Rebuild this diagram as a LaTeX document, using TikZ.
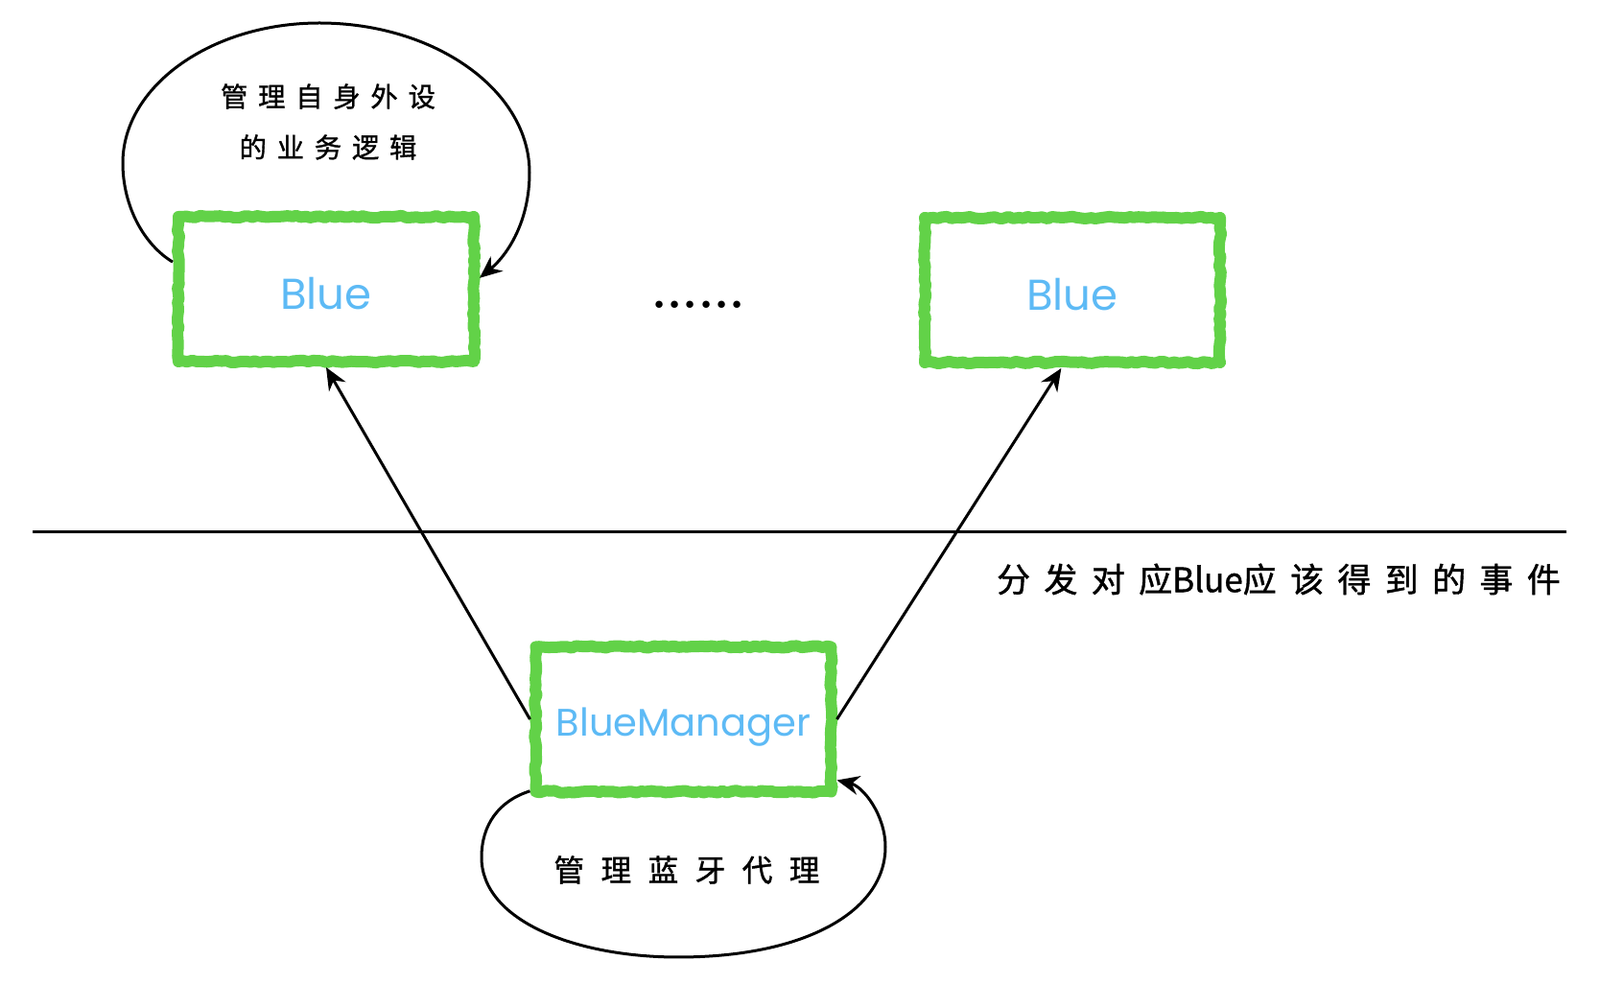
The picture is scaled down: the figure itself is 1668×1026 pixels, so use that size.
\documentclass[tikz,border=0pt]{standalone}
\usepackage{fontspec}
\usetikzlibrary{arrows.meta,decorations.pathmorphing}
\newfontfamily\cjk{Noto Sans CJK SC}[FakeBold=1.2]
\newfontfamily\latinfont{Poppins}
\definecolor{chalkgreen}{RGB}{98,210,72}
\definecolor{bluetext}{RGB}{93,186,245}
\tikzset{
  bluebox/.style={rectangle,draw=chalkgreen,line width=3.6pt,line join=round,
    minimum width=92.4pt,minimum height=45.3pt,inner sep=0pt,
    decorate,decoration={random steps,segment length=1.5pt,amplitude=0.35pt},
    text=bluetext,font=\latinfont\fontsize{13.5}{13.5}\selectfont},
  arr/.style={line width=0.9pt,-{Stealth[length=7pt,width=6pt]}},
  note/.style={inner sep=0pt,align=center}
}
\begin{document}
\begin{tikzpicture}[x=0.3pt,y=-0.3pt]
      \useasboundingbox (0,0) rectangle (1668,1026);%

      \node[bluebox] (blueA) at (340,301.5) {\raisebox{-6.3pt}[0pt][0pt]{Blue}};%
      \node[bluebox] (blueB) at (1118,302.5) {\raisebox{-6.3pt}[0pt][0pt]{Blue}};%
      \node[bluebox] (mgr) at (712.5,750) {\raisebox{-5.4pt}[0pt][0pt]{\fontsize{12}{12}\selectfont BlueManager}};%

      \node[inner sep=0pt,font=\fontsize{15.5}{15.5}\selectfont\bfseries] (dots) at (728,318) {......};%

      \node[note,font=\cjk\fontsize{8.5}{15.9}\selectfont\addfontfeature{LetterSpace=38}] (lblA) at (342,127) {管理自身外设\\的业务逻辑};%
      \node[note,font=\cjk\fontsize{9.5}{9.5}\selectfont\addfontfeature{LetterSpace=55}] (lblM) at (716,907) {管理蓝牙代理};%
      \node[note,font=\cjk\fontsize{10.5}{10.5}\selectfont\addfontfeature{LetterSpace=41}] (lblEv) at (1333,604) {分发对应{\addfontfeature{LetterSpace=0}Blue}应该得到的事件};%

      \coordinate (lineL) at (34,555);%
      \coordinate (lineR) at (1633,555);%

      \draw[line width=0.9pt] (lineL) -- (lineR);%

      \draw[arr] (mgr.west) -- (blueA.south);%
      \draw[arr] (mgr.east) -- ([xshift=-3.5pt]blueB.south);%

      \draw[arr] ([yshift=8.5pt]blueA.west) .. controls (150,255) and (128,215) .. (128,170)
        .. controls (128,90) and (220,24) .. (333,24)
        .. controls (453,24) and (552,94) .. (552,180)
        .. controls (552,230) and (530,265) .. ([yshift=3.5pt]blueA.east);%

      \draw[arr] ([yshift=2pt]mgr.south west) .. controls (520,835) and (502,860) .. (502,894)
        .. controls (502,960) and (600,998) .. (707,998)
        .. controls (840,998) and (923,950) .. (923,883)
        .. controls (923,850) and (900,820) .. ([yshift=5.4pt]mgr.south east);%
    \end{tikzpicture}
\end{document}
